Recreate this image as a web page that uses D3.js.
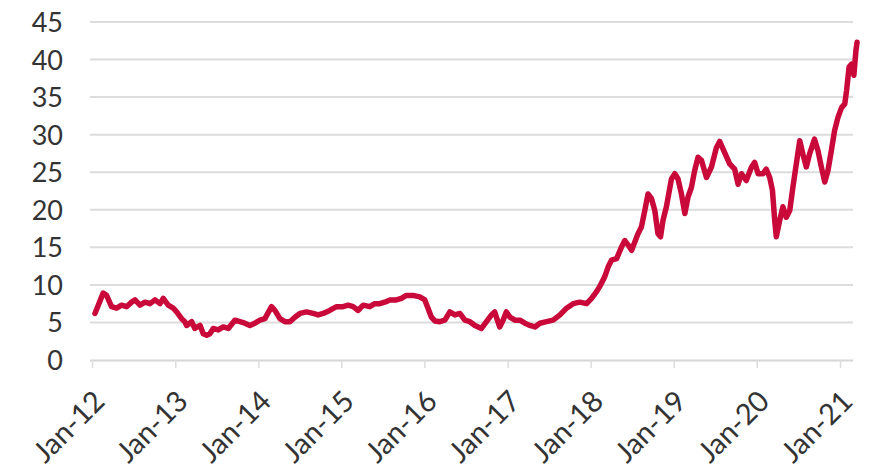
<!DOCTYPE html>
<html>
<head>
<meta charset="utf-8">
<script src="https://cdn.jsdelivr.net/npm/d3@7"></script>
<style>
  html, body { margin: 0; padding: 0; background: #ffffff; }
  svg { display: block; }
</style>
</head>
<body>
<svg id="chart" width="874" height="472"></svg>
<script>
// Series: observation dates and values
const dates = [
  "2012-01-14","2012-02-19","2012-03-05","2012-03-27","2012-04-18","2012-05-10","2012-06-01","2012-06-23",
  "2012-07-08","2012-07-30","2012-08-21","2012-09-12","2012-10-04","2012-10-26","2012-11-09","2012-12-01",
  "2012-12-23","2013-01-07","2013-01-29","2013-02-12","2013-02-20","2013-03-14","2013-03-28","2013-04-20",
  "2013-05-04","2013-05-19","2013-06-02","2013-06-17","2013-07-09","2013-07-31","2013-08-22","2013-09-20",
  "2013-10-12","2013-11-03","2013-11-25","2013-12-17","2014-01-08","2014-01-30","2014-02-28","2014-03-15",
  "2014-04-06","2014-04-28","2014-05-20","2014-06-11","2014-07-03","2014-08-01","2014-08-30","2014-09-21",
  "2014-10-13","2014-11-11","2014-12-11","2015-01-09","2015-01-31","2015-02-22","2015-03-16","2015-04-07",
  "2015-05-06","2015-05-28","2015-06-19","2015-07-11","2015-08-02","2015-08-31","2015-09-22","2015-10-14",
  "2015-11-12","2015-12-12","2016-01-03","2016-01-17","2016-02-01","2016-02-16","2016-03-09","2016-03-31",
  "2016-04-22","2016-05-14","2016-06-05","2016-06-27","2016-07-19","2016-08-10","2016-09-08","2016-09-30",
  "2016-10-22","2016-11-05","2016-11-27","2016-12-12","2016-12-26","2017-01-11","2017-02-02","2017-02-24",
  "2017-03-18","2017-04-09","2017-05-01","2017-05-23","2017-06-21","2017-07-20","2017-08-19","2017-09-17",
  "2017-10-16","2017-11-14","2017-12-14","2018-01-05","2018-01-27","2018-02-10","2018-03-04","2018-03-19",
  "2018-04-03","2018-04-25","2018-05-16","2018-05-31","2018-06-15","2018-06-30","2018-07-14","2018-07-28",
  "2018-08-12","2018-08-27","2018-09-10","2018-09-25","2018-10-10","2018-10-24","2018-11-04","2018-11-15",
  "2018-11-30","2018-12-22","2019-01-06","2019-01-20","2019-02-04","2019-02-19","2019-03-05","2019-03-20",
  "2019-04-03","2019-04-18","2019-05-03","2019-05-25","2019-06-16","2019-07-08","2019-07-22","2019-08-13",
  "2019-09-04","2019-09-26","2019-10-11","2019-10-26","2019-11-16","2019-12-09","2019-12-23","2020-01-07",
  "2020-01-28","2020-02-12","2020-02-27","2020-03-10","2020-03-20","2020-03-27","2020-04-11","2020-04-25",
  "2020-05-10","2020-05-25","2020-06-08","2020-06-23","2020-07-08","2020-07-22","2020-08-06","2020-08-20",
  "2020-09-11","2020-09-26","2020-10-11","2020-10-26","2020-11-09","2020-11-24","2020-12-08","2020-12-23",
  "2021-01-08","2021-01-22","2021-01-30","2021-02-10","2021-02-21","2021-03-03","2021-03-12","2021-03-17"
];
const values = [
  6.2, 8.9, 8.6, 7.1, 6.9, 7.3, 7.1, 7.7,
  8.0, 7.3, 7.7, 7.5, 8.0, 7.5, 8.2, 7.3,
  6.9, 6.4, 5.5, 5.1, 4.6, 5.1, 4.2, 4.6,
  3.5, 3.3, 3.5, 4.2, 4.0, 4.4, 4.2, 5.3,
  5.1, 4.9, 4.6, 4.9, 5.3, 5.5, 7.1, 6.6,
  5.5, 5.1, 5.1, 5.7, 6.2, 6.4, 6.2, 6.0,
  6.2, 6.6, 7.1, 7.1, 7.3, 7.1, 6.6, 7.3,
  7.1, 7.5, 7.5, 7.7, 8.0, 8.0, 8.2, 8.6,
  8.6, 8.4, 8.0, 6.9, 5.7, 5.2, 5.1, 5.3,
  6.4, 6.0, 6.2, 5.3, 5.1, 4.6, 4.2, 5.1,
  6.0, 6.4, 4.4, 5.3, 6.4, 5.7, 5.3, 5.3,
  4.9, 4.6, 4.4, 4.9, 5.1, 5.3, 6.0, 6.9,
  7.5, 7.7, 7.5, 8.2, 9.1, 9.8, 11.1, 12.4,
  13.3, 13.5, 15.0, 15.9, 15.3, 14.6, 15.7, 16.8,
  17.7, 19.9, 22.1, 21.5, 19.9, 16.8, 16.4, 18.6,
  20.4, 24.1, 24.8, 24.1, 22.1, 19.5, 21.7, 23.0,
  25.2, 27.0, 26.6, 24.3, 25.7, 28.3, 29.1, 27.6,
  26.1, 25.4, 23.4, 24.8, 23.9, 25.7, 26.3, 24.8,
  24.8, 25.4, 24.3, 22.6, 18.6, 16.4, 18.6, 20.4,
  19.0, 19.9, 23.0, 26.1, 29.2, 27.4, 25.7, 27.4,
  29.4, 27.9, 25.7, 23.7, 25.2, 27.9, 30.5, 32.3,
  33.6, 34.1, 35.9, 39.0, 39.4, 37.9, 41.2, 42.3
];

// Axis ticks
const yTicks = [0, 5, 10, 15, 20, 25, 30, 35, 40, 45];
const xTickDates = ["2012-01-01","2013-01-01","2014-01-01","2015-01-01","2016-01-01",
                    "2017-01-01","2018-01-01","2019-01-01","2020-01-01","2021-01-01"];
const xTickLabels = ["Jan-12","Jan-13","Jan-14","Jan-15","Jan-16",
                     "Jan-17","Jan-18","Jan-19","Jan-20","Jan-21"];

const parse = d3.timeParse("%Y-%m-%d");
const series = dates.map((d, i) => ({ date: parse(d), value: values[i] }));

const svg = d3.select("#chart");
const font = "Lato, 'Open Sans', sans-serif";

const x = d3.scaleTime()
  .domain([parse(xTickDates[0]), parse(xTickDates[xTickDates.length - 1])])
  .range([92, 840]);
const y = d3.scaleLinear().domain([0, 45]).range([360, 22]);

const gridLeft = 90, gridRight = 853;

// Horizontal gridlines
svg.append("g")
  .selectAll("line")
  .data(yTicks.filter(t => t > 0))
  .join("line")
  .attr("x1", gridLeft).attr("x2", gridRight)
  .attr("y1", d => y(d)).attr("y2", d => y(d))
  .attr("stroke", "#dcdcdc")
  .attr("stroke-width", 2);

// Y axis labels
const yAxis = d3.axisLeft(y).tickValues(yTicks).tickSize(0).tickPadding(0);
const gy = svg.append("g").attr("transform", "translate(63,0)").call(yAxis);
gy.select(".domain").remove();
gy.selectAll("text")
  .attr("font-family", font)
  .attr("font-size", 27)
  .attr("fill", "#333333")
  .attr("dy", "0.35em");

// X axis with year ticks
const xAxis = d3.axisBottom(x)
  .tickValues(xTickDates.map(parse))
  .tickFormat((d, i) => xTickLabels[i])
  .tickSize(8)
  .tickSizeOuter(0);
const gx = svg.append("g").attr("transform", "translate(0,360)").call(xAxis);
gx.select(".domain")
  .attr("d", `M${gridLeft},0.5H${gridRight}`)
  .attr("stroke", "#d6d6d6")
  .attr("stroke-width", 2);
gx.selectAll(".tick line").attr("stroke", "#dcdcdc").attr("stroke-width", 1.5);
gx.selectAll(".tick text")
  .attr("font-family", font)
  .attr("font-size", 29)
  .attr("fill", "#333333")
  .attr("text-anchor", "end")
  .attr("dy", "0")
  .attr("y", 0)
  .attr("transform", "translate(14,43) rotate(-45)");

// Price line
const line = d3.line()
  .x(d => x(d.date))
  .y(d => y(d.value));

svg.append("path")
  .datum(series)
  .attr("d", line)
  .attr("fill", "none")
  .attr("stroke", "#c8093a")
  .attr("stroke-width", 5.5)
  .attr("stroke-linejoin", "round")
  .attr("stroke-linecap", "round");
</script>
</body>
</html>
